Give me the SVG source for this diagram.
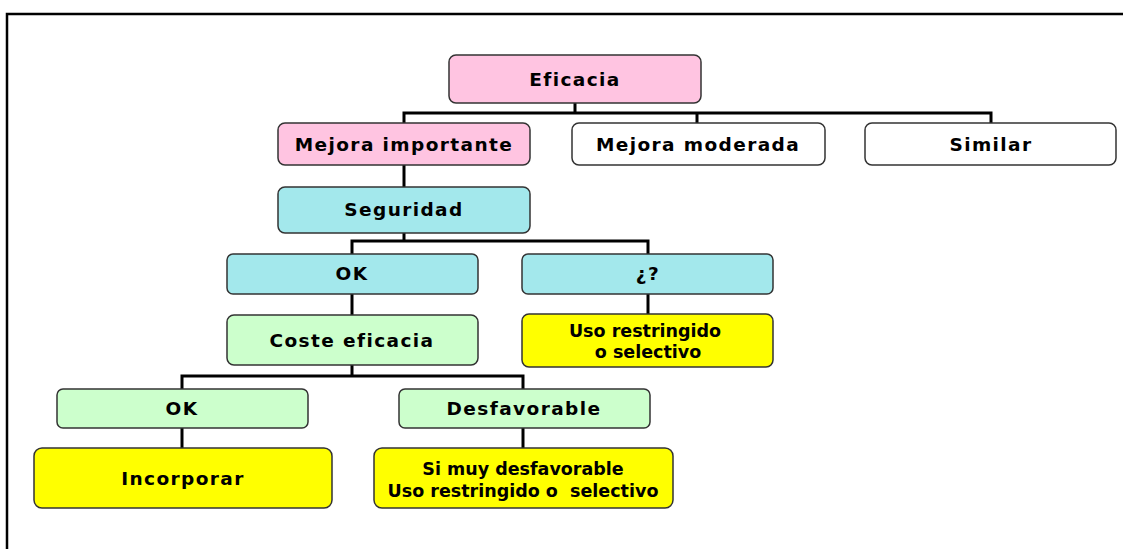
<svg xmlns="http://www.w3.org/2000/svg" width="1123" height="549" viewBox="0 0 1123 549">
<style>
.box{stroke:#333;stroke-width:1.5}
.pink{fill:#FFC4E1}.white{fill:#fff}.cyan{fill:#A3E8EC}.green{fill:#CCFFCC}.yellow{fill:#FFFF00}
.t{font-family:"DejaVu Sans",Verdana,sans-serif;font-weight:bold;font-size:18.5px;letter-spacing:1.4px;fill:#000;text-anchor:middle}
.s{font-family:"DejaVu Sans",Verdana,sans-serif;font-weight:bold;font-size:17.5px;fill:#000;text-anchor:middle}
.c{fill:none;stroke:#000;stroke-width:3}
</style>
<rect width="1123" height="549" fill="#fff"/>
<path d="M7 549V14H1123" fill="none" stroke="#000" stroke-width="2.5"/>
<g id="connectors" class="c">
<path d="M575 103V113M404 124V113H991V124M697 113V124"/>
<path d="M404 164V187"/>
<path d="M404 233V241M352 254V241H648V254"/>
<path d="M352 294V315"/>
<path d="M648 294V314"/>
<path d="M352 365V376M182 389V376H523V389"/>
<path d="M182 428V448"/>
<path d="M523 428V448"/>
</g>
<g id="eficacia"><rect class="box pink" x="449" y="55" width="252" height="48" rx="7"/><text class="t" x="575" y="86">Eficacia</text></g>
<g id="mejora-importante"><rect class="box pink" x="278" y="123" width="252" height="42" rx="7"/><text class="t" x="404" y="151">Mejora importante</text></g>
<g id="mejora-moderada"><rect class="box white" x="572" y="123" width="253" height="42" rx="7"/><text class="t" x="698" y="151">Mejora moderada</text></g>
<g id="similar"><rect class="box white" x="865" y="123" width="251" height="42" rx="7"/><text class="t" x="991" y="151">Similar</text></g>
<g id="seguridad"><rect class="box cyan" x="278" y="187" width="252" height="46" rx="7"/><text class="t" x="404" y="216">Seguridad</text></g>
<g id="ok1"><rect class="box cyan" x="227" y="254" width="251" height="40" rx="6"/><text class="t" x="352" y="280">OK</text></g>
<g id="interrogacion"><rect class="box cyan" x="522" y="254" width="251" height="40" rx="6"/><text class="t" x="648" y="280">¿?</text></g>
<g id="coste-eficacia"><rect class="box green" x="227" y="315" width="251" height="50" rx="7"/><text class="t" x="352" y="347">Coste eficacia</text></g>
<g id="uso-restringido"><rect class="box yellow" x="522" y="314" width="251" height="53" rx="7"/><text class="s" x="645" y="337">Uso restringido</text><text class="s" x="645" y="358" xml:space="preserve"> o selectivo</text></g>
<g id="ok2"><rect class="box green" x="57" y="389" width="251" height="39" rx="6"/><text class="t" x="182" y="415">OK</text></g>
<g id="desfavorable"><rect class="box green" x="399" y="389" width="251" height="39" rx="6"/><text class="t" x="524" y="415">Desfavorable</text></g>
<g id="incorporar"><rect class="box yellow" x="34" y="448" width="298" height="60" rx="8"/><text class="t" x="183" y="485">Incorporar</text></g>
<g id="si-muy-desfavorable"><rect class="box yellow" x="374" y="448" width="299" height="60" rx="8"/><text class="s" x="523" y="475">Si muy desfavorable</text><text class="s" x="523" y="497" xml:space="preserve">Uso restringido o  selectivo</text></g>
</svg>
